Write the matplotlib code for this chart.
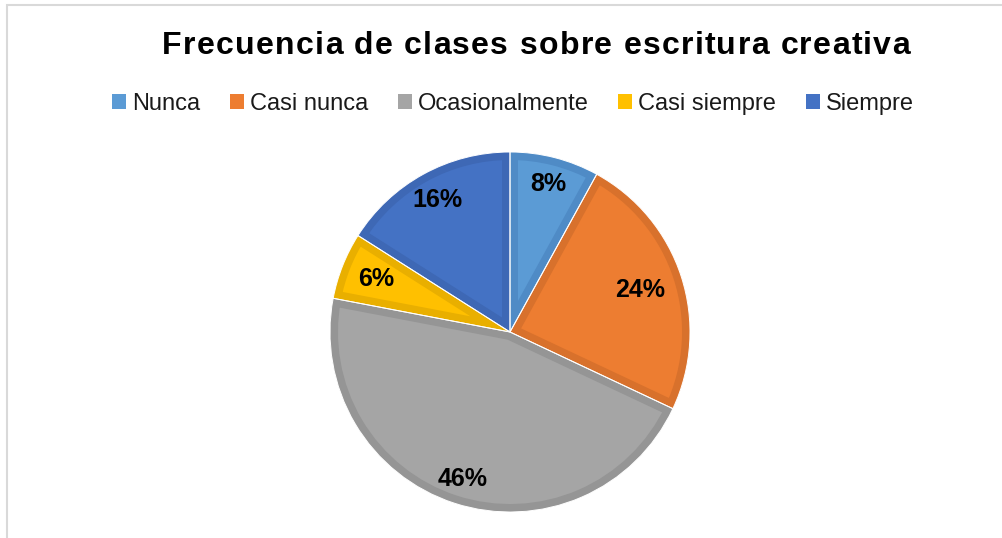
import numpy as np
import matplotlib
matplotlib.use("Agg")
import matplotlib.pyplot as plt
from matplotlib.patches import Patch, Rectangle
from matplotlib.font_manager import FontProperties

plt.rcParams['font.family'] = ['Liberation Sans', 'DejaVu Sans']

# data
title = "Frecuencia de clases sobre escritura creativa"
categories = ["Nunca", "Casi nunca", "Ocasionalmente", "Casi siempre", "Siempre"]
values = [8, 24, 46, 6, 16]
labels = ["8%", "24%", "46%", "6%", "16%"]
fills = ["#5B9BD5", "#ED7D31", "#A5A5A5", "#FFC000", "#4472C4"]
edges = ["#4F8BC6", "#D8712C", "#959595", "#E9AF00", "#3E68B5"]
label_dist = [0.85, 0.76, 0.86, 0.80, 0.84]

W, H = 1002, 538
fig = plt.figure(figsize=(W / 100, H / 100), dpi=100)

# chart frame (runs off the right and bottom edges)
fig.patches.append(Rectangle((7 / W, -0.1), 1.2, (H - 5) / H + 0.1,
                             transform=fig.transFigure, fill=False,
                             ec="#d9d9d9", lw=1.5))

cx, cy, r = 510, 332, 180
ax = fig.add_axes([(cx - r) / W, (H - cy - r) / H, 2 * r / W, 2 * r / H])

wedges, _ = ax.pie(values, colors=fills, startangle=90, counterclock=False,
                   radius=1)
for w, ec in zip(wedges, edges):
    w.set_edgecolor(ec)
    w.set_linewidth(11.5)
    w.set_clip_on(True)
    w.set_clip_path(w)

# thin light separators between slices
ax.pie(values, colors=["none"] * 5, startangle=90, counterclock=False,
       radius=1, wedgeprops=dict(ec="white", lw=0.7, fill=False))

for w, lab, d in zip(wedges, labels, label_dist):
    ang = np.deg2rad((w.theta1 + w.theta2) / 2)
    ax.text(d * np.cos(ang), d * np.sin(ang), lab, ha="center", va="center",
            fontsize=18, fontweight="bold", color="black")

ax.set_xlim(-1, 1)
ax.set_ylim(-1, 1)
ax.set_aspect("equal")
ax.axis("off")

# title with a little letter spacing
fp = FontProperties(family="Liberation Sans", weight="bold", size=23)
renderer = fig.canvas.get_renderer()
def tw(s):
    return renderer.get_text_width_height_descent(s, fp, ismath=False)[0]
track = 1.3
bar = tw("|")
pos = [tw(title[:i] + "|") - bar + i * track for i in range(len(title))]
total = tw(title) + track * (len(title) - 1)
x0 = 536 - total / 2
for ch, p in zip(title, pos):
    if ch != " ":
        fig.text((x0 + p) / W, 1 - 46 / H, ch, ha="left", va="center",
                 fontproperties=fp, color="black")

handles = [Patch(facecolor=c, edgecolor="none") for c in fills]
fig.legend(handles, categories, loc="center", ncol=5,
           bbox_to_anchor=(513 / W, 1 - 104 / H), frameon=False,
           fontsize=17, handlelength=0.6, handleheight=0.6,
           handletextpad=0.25, columnspacing=1.25, labelcolor="#1a1a1a")

fig.savefig("out.png", dpi=100)
